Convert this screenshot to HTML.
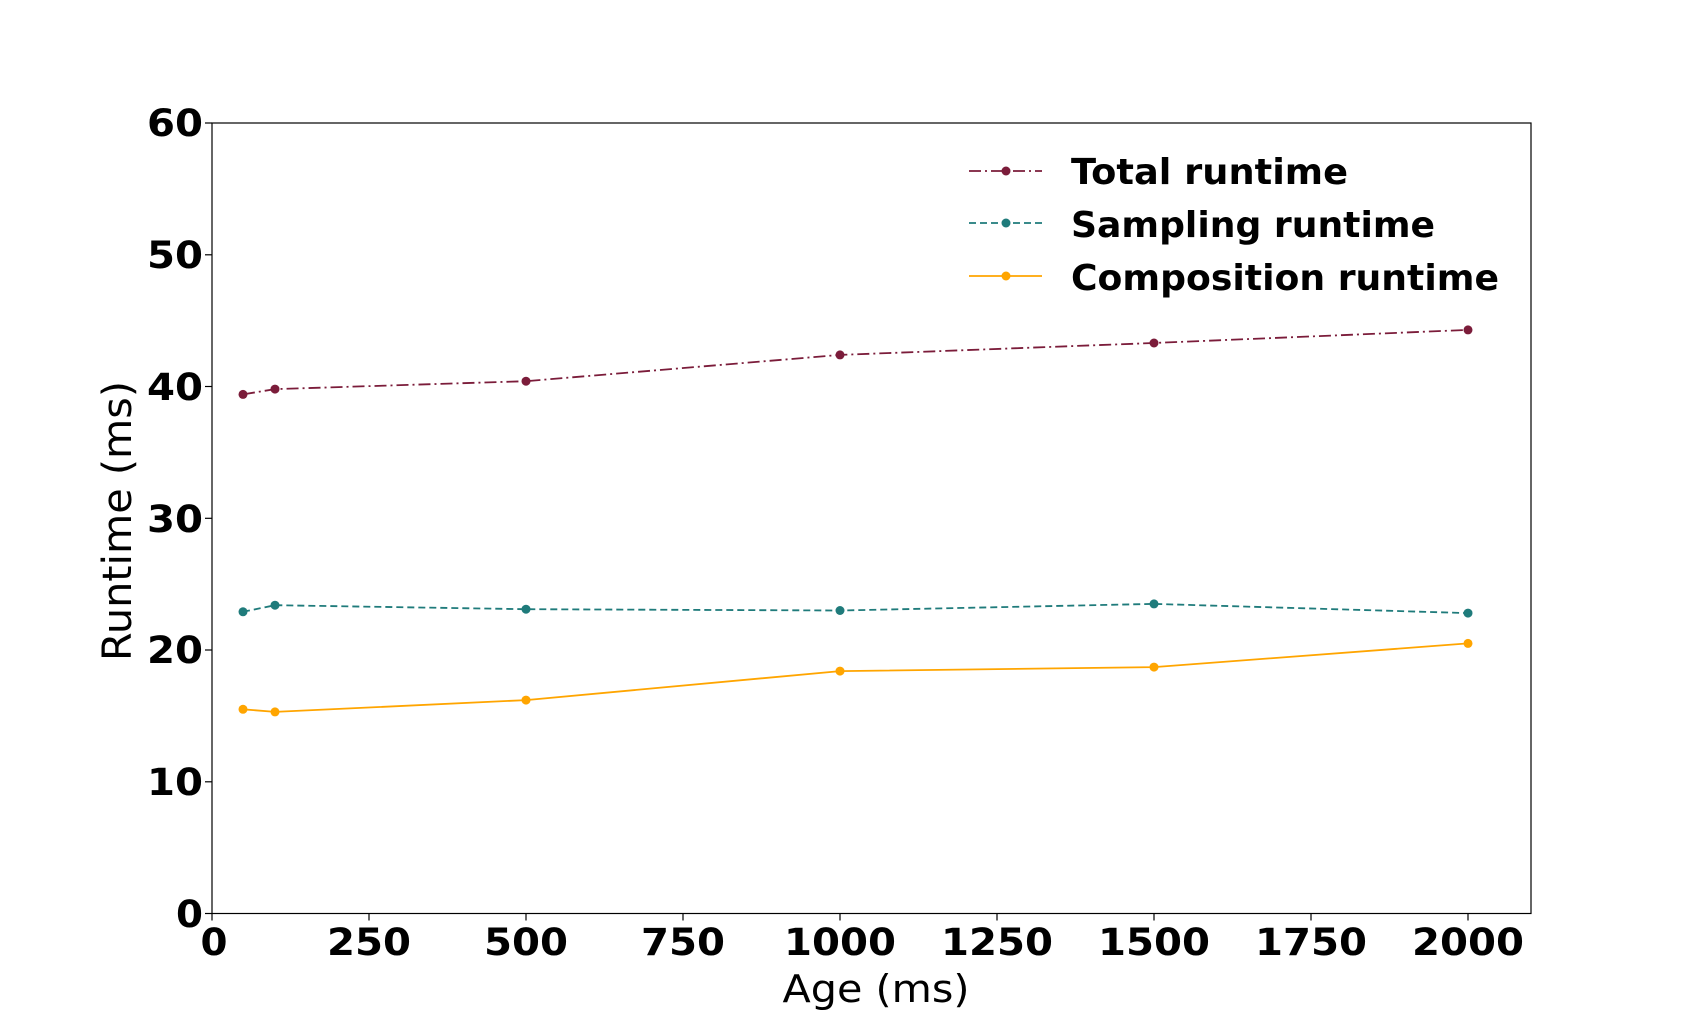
<!DOCTYPE html>
<html><head><meta charset="utf-8"><style>body{margin:0;background:#fff}svg{display:block}</style></head><body>
<svg width="1700" height="1027" xmlns="http://www.w3.org/2000/svg" font-family="DejaVu Sans, Liberation Sans, sans-serif">
<rect width="1700" height="1027" fill="#fff"/>
<rect x="212" y="123" width="1319" height="790.5" fill="none" stroke="#000" stroke-width="1.2"/>
<g stroke="#000" stroke-width="1.2">
<line x1="205" y1="913.5" x2="212" y2="913.5"/><line x1="205" y1="781.8" x2="212" y2="781.8"/><line x1="205" y1="650" x2="212" y2="650"/><line x1="205" y1="518.3" x2="212" y2="518.3"/><line x1="205" y1="386.5" x2="212" y2="386.5"/><line x1="205" y1="254.8" x2="212" y2="254.8"/><line x1="205" y1="123" x2="212" y2="123"/>
<line x1="212" y1="913.5" x2="212" y2="920.5"/><line x1="369" y1="913.5" x2="369" y2="920.5"/><line x1="526" y1="913.5" x2="526" y2="920.5"/><line x1="683" y1="913.5" x2="683" y2="920.5"/><line x1="840" y1="913.5" x2="840" y2="920.5"/><line x1="997" y1="913.5" x2="997" y2="920.5"/><line x1="1154" y1="913.5" x2="1154" y2="920.5"/><line x1="1311" y1="913.5" x2="1311" y2="920.5"/><line x1="1468" y1="913.5" x2="1468" y2="920.5"/>
</g>
<g font-size="37" font-weight="bold" text-anchor="end" fill="#000" lengthAdjust="spacingAndGlyphs">
<text x="203" y="927" textLength="27" lengthAdjust="spacingAndGlyphs">0</text>
<text x="203" y="795" textLength="56" lengthAdjust="spacingAndGlyphs">10</text>
<text x="203" y="663" textLength="56" lengthAdjust="spacingAndGlyphs">20</text>
<text x="203" y="532" textLength="56" lengthAdjust="spacingAndGlyphs">30</text>
<text x="203" y="400" textLength="56" lengthAdjust="spacingAndGlyphs">40</text>
<text x="203" y="268" textLength="56" lengthAdjust="spacingAndGlyphs">50</text>
<text x="203" y="136" textLength="56" lengthAdjust="spacingAndGlyphs">60</text>
</g>
<g font-size="37" font-weight="bold" text-anchor="middle" fill="#000">
<text x="214" y="955" textLength="27" lengthAdjust="spacingAndGlyphs">0</text>
<text x="369" y="955" textLength="84" lengthAdjust="spacingAndGlyphs">250</text>
<text x="526" y="955" textLength="84" lengthAdjust="spacingAndGlyphs">500</text>
<text x="683" y="955" textLength="84" lengthAdjust="spacingAndGlyphs">750</text>
<text x="840" y="955" textLength="112" lengthAdjust="spacingAndGlyphs">1000</text>
<text x="997" y="955" textLength="112" lengthAdjust="spacingAndGlyphs">1250</text>
<text x="1154" y="955" textLength="112" lengthAdjust="spacingAndGlyphs">1500</text>
<text x="1311" y="955" textLength="112" lengthAdjust="spacingAndGlyphs">1750</text>
<text x="1468" y="955" textLength="112" lengthAdjust="spacingAndGlyphs">2000</text>
</g>
<text x="876" y="1002" font-size="38" text-anchor="middle" textLength="187" lengthAdjust="spacingAndGlyphs">Age (ms)</text>
<text transform="translate(131,521) rotate(-90)" font-size="40" text-anchor="middle" textLength="280" lengthAdjust="spacingAndGlyphs">Runtime (ms)</text>
<g fill="none" stroke-width="1.8">
<polyline stroke="#7b1c3a" stroke-dasharray="12,4,2,4" points="243,394.4 275,389.1 526,381.2 840,354.9 1154,343 1468,329.9"/>
<polyline stroke="#1f7b7b" stroke-dasharray="7,4" points="243,611.8 275,605.2 526,609.2 840,610.5 1154,603.9 1468,613.1"/>
<polyline stroke="#ffa500" points="243,709.3 275,711.9 526,700.1 840,671.1 1154,667.1 1468,643.4"/>
</g>
<g fill="#7b1c3a"><circle cx="243" cy="394.4" r="4.5"/><circle cx="275" cy="389.1" r="4.5"/><circle cx="526" cy="381.2" r="4.5"/><circle cx="840" cy="354.9" r="4.5"/><circle cx="1154" cy="343" r="4.5"/><circle cx="1468" cy="329.9" r="4.5"/></g>
<g fill="#1f7b7b"><circle cx="243" cy="611.8" r="4.5"/><circle cx="275" cy="605.2" r="4.5"/><circle cx="526" cy="609.2" r="4.5"/><circle cx="840" cy="610.5" r="4.5"/><circle cx="1154" cy="603.9" r="4.5"/><circle cx="1468" cy="613.1" r="4.5"/></g>
<g fill="#ffa500"><circle cx="243" cy="709.3" r="4.5"/><circle cx="275" cy="711.9" r="4.5"/><circle cx="526" cy="700.1" r="4.5"/><circle cx="840" cy="671.1" r="4.5"/><circle cx="1154" cy="667.1" r="4.5"/><circle cx="1468" cy="643.4" r="4.5"/></g>
<g stroke-width="1.8">
<line x1="969" y1="171" x2="1042" y2="171" stroke="#7b1c3a" stroke-dasharray="12,4,2,4"/><circle cx="1006" cy="171" r="4.5" fill="#7b1c3a"/>
<line x1="969" y1="223" x2="1042" y2="223" stroke="#1f7b7b" stroke-dasharray="7,4"/><circle cx="1006" cy="223" r="4.5" fill="#1f7b7b"/>
<line x1="969" y1="276" x2="1042" y2="276" stroke="#ffa500"/><circle cx="1006" cy="276" r="4.5" fill="#ffa500"/>
</g>
<g font-size="36" font-weight="bold" fill="#000">
<text x="1071" y="184" textLength="277" lengthAdjust="spacingAndGlyphs">Total runtime</text>
<text x="1071" y="237" textLength="364" lengthAdjust="spacingAndGlyphs">Sampling runtime</text>
<text x="1071" y="290" textLength="428" lengthAdjust="spacingAndGlyphs">Composition runtime</text>
</g>
</svg>
</body></html>
